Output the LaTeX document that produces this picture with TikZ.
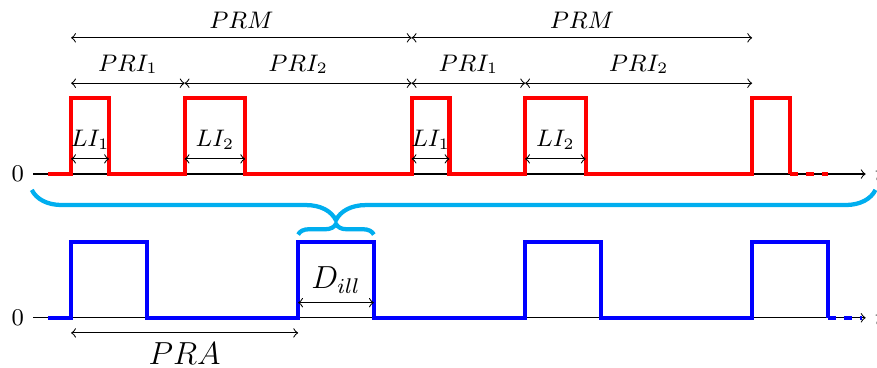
\documentclass[tikz,border=0pt]{standalone}
\usepackage{amsmath}
\usepackage{tikz}
\usepackage{xcolor}
\usetikzlibrary{calc}
\usetikzlibrary{positioning}
\usetikzlibrary{decorations.pathreplacing}

\definecolor{bracecyan}{RGB}{0,174,239}

\tikzset{
  pulse/.style={ultra thick, line join=miter},
  dim/.style={<->, thin},
  lbl/.style={font=\small},
  biglbl/.style={font=\large},
  bracestyle/.style={bracecyan, ultra thick, decorate},
}

\begin{document}
\begin{tikzpicture}
\useasboundingbox (-0.94,-0.66) rectangle (10.65,4.2);

% axes
\coordinate (r0) at (-0.5,1.9);
\coordinate (rt) at (10.5,1.9);
\coordinate (b0) at (-0.5,0);
\coordinate (bt) at (10.5,0);
\draw[->] (r0) -- (rt) node[right,lbl] (rtime) {$t$};
\draw[->] (b0) -- (bt) node[right,lbl] (btime) {$t$};
\node[left,lbl] (rzero) at (r0) {0};
\node[left,lbl] (bzero) at (b0) {0};

% staggered train
\draw[red,pulse] (-0.3,1.9) -- (0,1.9) -- (0,2.9) -- (0.5,2.9) -- (0.5,1.9)
  -- (1.5,1.9) -- (1.5,2.9) -- (2.3,2.9) -- (2.3,1.9)
  -- (4.5,1.9) -- (4.5,2.9) -- (5,2.9) -- (5,1.9)
  -- (6,1.9) -- (6,2.9) -- (6.8,2.9) -- (6.8,1.9)
  -- (9,1.9) -- (9,2.9) -- (9.5,2.9) -- (9.5,1.9);
\draw[red,pulse,dashed] (9.5,1.9) -- (10,1.9);

% regular train
\draw[blue,pulse] (-0.3,0) -- (0,0) -- (0,1) -- (1,1) -- (1,0)
  -- (3,0) -- (3,1) -- (4,1) -- (4,0)
  -- (6,0) -- (6,1) -- (7,1) -- (7,0)
  -- (9,0) -- (9,1) -- (10,1) -- (10,0);
\draw[blue,pulse,dashed] (10,0) -- (10.45,0);

% PRM
\coordinate (m0) at (0,3.7);
\coordinate (m1) at (4.5,3.7);
\coordinate (m2) at (9,3.7);
\draw[dim] (m0) -- node[above,lbl] (prma) {$PRM$} (m1);
\draw[dim] (m1) -- node[above,lbl] (prmb) {$PRM$} (m2);

% PRI
\coordinate (i0) at (0,3.1);
\coordinate (i1) at (1.5,3.1);
\coordinate (i2) at (4.5,3.1);
\coordinate (i3) at (6,3.1);
\coordinate (i4) at (9,3.1);
\draw[dim] (i0) -- node[above,lbl] (pria) {$PRI_1$} (i1);
\draw[dim] (i1) -- node[above,lbl] (prib) {$PRI_2$} (i2);
\draw[dim] (i2) -- node[above,lbl] (pric) {$PRI_1$} (i3);
\draw[dim] (i3) -- node[above,lbl] (prid) {$PRI_2$} (i4);

% LI
\coordinate (la0) at (0,2.1);
\coordinate (la1) at (0.5,2.1);
\coordinate (lb0) at (1.5,2.1);
\coordinate (lb1) at (2.3,2.1);
\coordinate (lc0) at (4.5,2.1);
\coordinate (lc1) at (5,2.1);
\coordinate (ld0) at (6,2.1);
\coordinate (ld1) at (6.8,2.1);
\draw[dim] (la0) -- node[above,lbl] (lia) {$LI_1$} (la1);
\draw[dim] (lb0) -- node[above,lbl] (lib) {$LI_2$} (lb1);
\draw[dim] (lc0) -- node[above,lbl] (lic) {$LI_1$} (lc1);
\draw[dim] (ld0) -- node[above,lbl] (lid) {$LI_2$} (ld1);

% D_ill and PRA
\coordinate (d0) at (3,0.2);
\coordinate (d1) at (4,0.2);
\draw[dim] (d0) -- node[above,biglbl] (dill) {$D_{ill}$} (d1);
\coordinate (a0) at (0,-0.2);
\coordinate (a1) at (3,-0.2);
\draw[dim] (a0) -- node[below,biglbl] (pra) {$PRA$} (a1);

% braces
\draw[bracestyle, decoration={brace, mirror, amplitude=0.4cm, aspect=0.3605}]
  (-0.52,1.69) -- (10.63,1.69);
\draw[bracestyle, decoration={brace, amplitude=4pt}] (3,1.1) -- (4,1.1);
\end{tikzpicture}
\end{document}
